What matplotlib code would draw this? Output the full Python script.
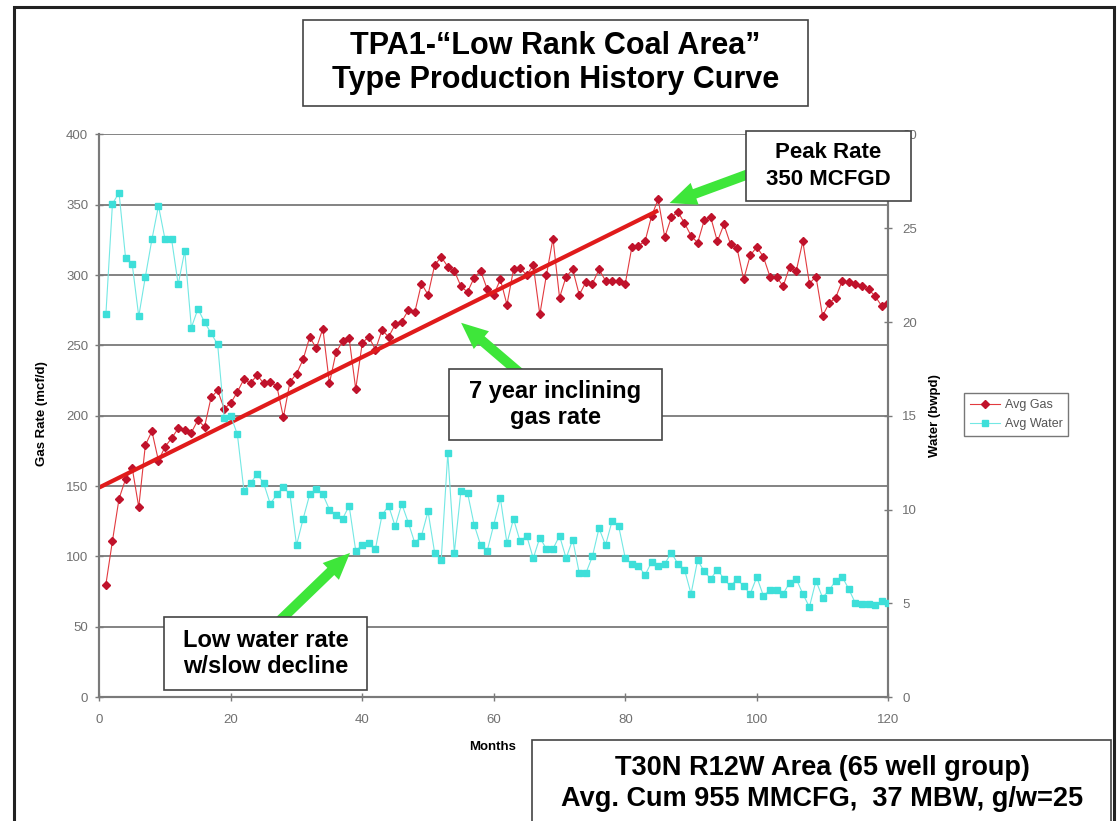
import numpy as np
import matplotlib.pyplot as plt
from matplotlib.patches import Rectangle, FancyArrowPatch
from matplotlib.lines import Line2D

plt.rcParams['font.family'] = ['Liberation Sans', 'DejaVu Sans']

W, H = 1118, 821

# monthly averages
months = np.arange(1, 121)
gas = [80, 111, 141, 155, 163, 135, 179, 189, 168, 178,
       184, 191, 190, 188, 197, 192, 213, 218, 205, 209,
       217, 226, 223, 229, 223, 224, 221, 199, 224, 230,
       240, 256, 248, 262, 223, 245, 253, 255, 219, 252,
       256, 247, 261, 256, 265, 267, 275, 274, 294, 286,
       307, 313, 306, 303, 292, 288, 298, 303, 290, 286,
       297, 279, 304, 305, 300, 307, 272, 300, 326, 284,
       299, 304, 286, 295, 294, 304, 296, 296, 296, 294,
       320, 321, 324, 342, 354, 327, 341, 345, 337, 328,
       323, 339, 341, 324, 336, 322, 319, 297, 314, 320,
       313, 299, 299, 292, 306, 303, 324, 294, 299, 271,
       280, 284, 296, 295, 294, 292, 290, 285, 278, 280]
water = [20.4, 26.3, 26.9, 23.4, 23.1, 20.3, 22.4, 24.4, 26.2, 24.4,
         24.4, 22.0, 23.8, 19.7, 20.7, 20.0, 19.4, 18.8, 14.9, 15.0,
         14.0, 11.0, 11.4, 11.9, 11.4, 10.3, 10.8, 11.2, 10.8, 8.1,
         9.5, 10.8, 11.1, 10.8, 10.0, 9.7, 9.5, 10.2, 7.8, 8.1,
         8.2, 7.9, 9.7, 10.2, 9.1, 10.3, 9.3, 8.2, 8.6, 9.9,
         7.7, 7.3, 13.0, 7.7, 11.0, 10.9, 9.2, 8.1, 7.8, 9.2,
         10.6, 8.2, 9.5, 8.3, 8.6, 7.4, 8.5, 7.9, 7.9, 8.6,
         7.4, 8.4, 6.6, 6.6, 7.5, 9.0, 8.1, 9.4, 9.1, 7.4,
         7.1, 7.0, 6.5, 7.2, 7.0, 7.1, 7.7, 7.1, 6.8, 5.5,
         7.3, 6.7, 6.3, 6.8, 6.3, 5.9, 6.3, 5.9, 5.5, 6.4,
         5.4, 5.7, 5.7, 5.5, 6.1, 6.3, 5.5, 4.8, 6.2, 5.3,
         5.7, 6.2, 6.4, 5.75, 5.0, 4.95, 4.95, 4.9, 5.1, 5.0]
trend_months = [0, 85]
trend_gas = [149, 346]

gas_ticks = [0, 50, 100, 150, 200, 250, 300, 350, 400]
water_ticks = [0, 5, 10, 15, 20, 25, 30]
month_ticks = [0, 20, 40, 60, 80, 100, 120]


def fx(px):
    return px / W


def fy(py):
    return 1 - py / H


fig = plt.figure(figsize=(W / 100, H / 100), dpi=100)
ax = fig.add_axes([fx(99.3), fy(697), (888.3 - 99.3) / W, (697 - 134.5) / H])
ax2 = ax.twinx()

axis_grey = '#7a7a7a'
label_grey = '#707070'

ax.plot(months, gas, color='#e23a3f', lw=0.8, marker='D', ms=3.6,
        mfc='#c0122b', mec='#c0122b', zorder=3)
ax.plot(trend_months, trend_gas, color='#e01b1b', lw=3, zorder=4,
        solid_capstyle='butt')
ax2.plot(months, water, color='#74e8e4', lw=0.8, marker='s', ms=4.0,
         mfc='#3edfd9', mec='#3edfd9', zorder=3)

ax.set_xlim(0, 120)
ax.set_ylim(0, 400)
ax2.set_ylim(0, 30)
ax.set_xticks(month_ticks)
ax.set_yticks(gas_ticks)
ax2.set_yticks(water_ticks)

ax.grid(axis='y', color=axis_grey, lw=1.3)
ax.set_axisbelow(True)

for a in (ax, ax2):
    a.spines['top'].set_visible(False)
    for s in ('left', 'right', 'bottom'):
        a.spines[s].set_color(axis_grey)
        a.spines[s].set_linewidth(1.5)
    a.patch.set_visible(False)

ax.tick_params(axis='both', direction='inout', length=6, width=1,
               color=axis_grey, labelcolor=label_grey, labelsize=9.5)
ax.tick_params(axis='x', pad=9)
ax.tick_params(axis='y', pad=5)
ax2.tick_params(axis='y', direction='inout', length=6, width=1,
                color=axis_grey, labelcolor=label_grey, labelsize=9.5, pad=7)

fig.text(fx(42), fy(414), 'Gas Rate (mcf/d)', rotation=90, ha='center',
         va='center', fontsize=9.5, weight='bold')
fig.text(fx(935), fy(416), 'Water (bwpd)', rotation=90, ha='center',
         va='center', fontsize=9.5, weight='bold')
fig.text(fx(493), fy(747), 'Months', ha='center', va='center',
         fontsize=9.5, weight='bold')

handles = [Line2D([], [], color='#e23a3f', lw=0.8, marker='D', ms=3.6,
                  mfc='#c0122b', mec='#c0122b'),
           Line2D([], [], color='#74e8e4', lw=0.8, marker='s', ms=4.0,
                  mfc='#3edfd9', mec='#3edfd9')]
leg = fig.legend(handles, ['Avg Gas', 'Avg Water'], loc='center left',
                 bbox_to_anchor=(fx(964), fy(414.5)), fontsize=9,
                 frameon=True, fancybox=False, edgecolor='#555555',
                 borderpad=0.45, handlelength=2.4, labelspacing=0.55,
                 handletextpad=0.4, borderaxespad=0)
leg.get_frame().set_linewidth(1.0)
for t in leg.get_texts():
    t.set_color('#555555')


def box(x0, y0, x1, y1, text, size, spacing):
    fig.add_artist(Rectangle((fx(x0), fy(y1)), (x1 - x0) / W, (y1 - y0) / H,
                             transform=fig.transFigure, facecolor='white',
                             edgecolor='#444444', lw=1.2, zorder=6))
    fig.text(fx((x0 + x1) / 2), fy((y0 + y1) / 2), text, ha='center',
             va='center', fontsize=size, weight='bold', linespacing=spacing,
             zorder=7)


def arrow(tail, head):
    fig.add_artist(FancyArrowPatch(
        (fx(tail[0]), fy(tail[1])), (fx(head[0]), fy(head[1])),
        transform=fig.transFigure,
        arrowstyle='simple,head_length=1.6,head_width=1.4,tail_width=0.6',
        mutation_scale=12, color='#3ee63a', lw=0, zorder=5))


arrow((765, 168), (667, 204))
arrow((528, 380), (459, 321))
arrow((268, 632), (352, 551))

box(303, 20, 808, 106, 'TPA1-\u201cLow Rank Coal Area\u201d\nType Production History Curve',
    22, 1.2)
box(746, 131, 911, 201, 'Peak Rate\n350 MCFGD', 16, 1.4)
box(449, 369, 662, 440, '7 year inclining\ngas rate', 17, 1.2)
box(164, 617, 367, 690, 'Low water rate\nw/slow decline', 17, 1.2)
box(532, 740, 1111, 840, '', 19.5, 1.25)
fig.text(fx(822), fy(783), 'T30N R12W Area (65 well group)\nAvg. Cum 955 MMCFG,  37 MBW, g/w=25',
         ha='center', va='center', fontsize=19.5, weight='bold',
         linespacing=1.25, zorder=7)

# outer frame
fig.add_artist(Rectangle((fx(14), -0.02), (1114 - 14) / W, fy(7) + 0.02,
                         transform=fig.transFigure, fill=False,
                         edgecolor='#222222', lw=2.2, zorder=8))

fig.savefig('out.png', dpi=100)
